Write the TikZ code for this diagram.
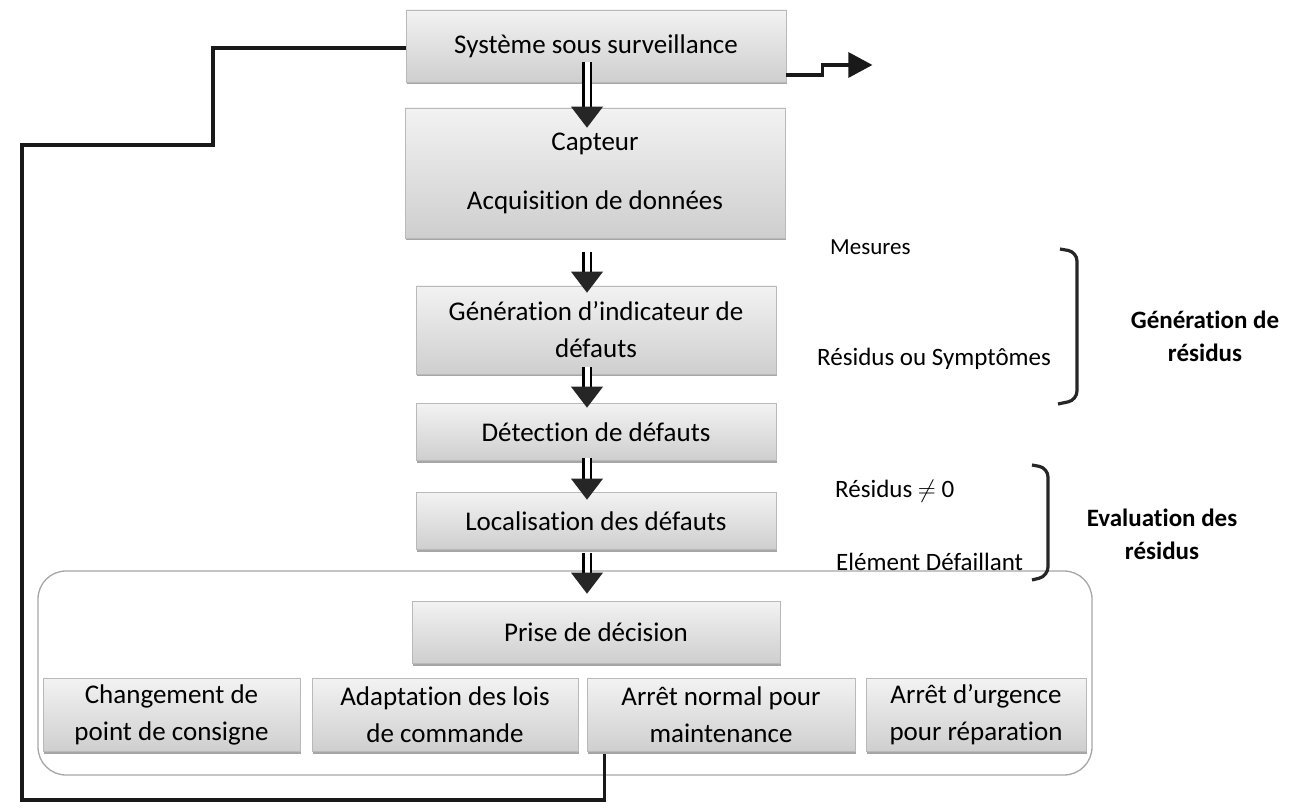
\documentclass[tikz,border=0pt]{standalone}
\usepackage{fontspec}
\setmainfont[Ligatures=NoCommon]{Carlito}
\usetikzlibrary{calc,shadows}
% hollow (double-outlined) down arrow: #1 shaft start, #2 tip
\newcommand\harrow[2]{%
  \draw[line width=2.6pt, double=white, double distance=5pt] (#1) -- ($(#2)+(0,-18)$);
  \fill[black!85] ($(#2)+(-16,-21)$) -- ($(#2)+(16,-21)$) -- (#2) -- cycle;}
\tikzset{
  box/.style={draw=gray!55, line width=0.6pt, top color=gray!10, bottom color=gray!38,
    drop shadow={shadow xshift=1pt, shadow yshift=-2.5pt, fill=gray!70, opacity=1},
    align=center, inner sep=2pt, font=\fontsize{27}{37}\selectfont},
  lbl/.style={font=\fontsize{25}{30}\selectfont, inner sep=0pt, anchor=west},
  blbl/.style={font=\fontsize{25}{33}\selectfont\bfseries, align=center, inner sep=0pt},
  fb/.style={line width=3.5pt, black!90, line join=miter},
  brk/.style={line width=3.2pt, black!85, rounded corners=9pt},
}
\begin{document}
\begin{tikzpicture}[x=1pt,y=-1pt]
\useasboundingbox (0,0) rectangle (1294,810);
% decision frame
\node[draw=gray!70, line width=1.3pt, rounded corners=28pt, minimum width=1054pt, minimum height=204pt] (frame) at (565,673) {};
% boxes
\node[box, minimum width=380pt, minimum height=72pt] (sys) at (596,46) {Système sous surveillance};
\node[box, minimum width=380pt, minimum height=130pt] (cap) at (595,173) {Capteur\\[22pt]Acquisition de données};
\node[box, minimum width=360pt, minimum height=88pt] (gen) at (596,330) {Génération d’indicateur de\\défauts};
\node[box, minimum width=360pt, minimum height=57pt] (det) at (596,432) {Détection de défauts};
\node[box, minimum width=360pt, minimum height=57pt] (loc) at (596,521) {Localisation des défauts};
\node[box, minimum width=368pt, minimum height=62pt] (pd) at (596,632) {Prise de décision};
\node[box, minimum width=257pt, minimum height=73pt] (b1) at (171.5,715) {Changement de\\point de consigne};
\node[box, minimum width=266pt, minimum height=73pt] (b2) at (445,715) {Adaptation des lois\\de commande};
\node[box, minimum width=268pt, minimum height=73pt] (b3) at (721,715) {Arrêt normal pour\\maintenance};
\node[box, minimum width=220pt, minimum height=73pt] (b4) at (976,715) {Arrêt d’urgence\\pour réparation};
% hollow arrows between consecutive boxes
\coordinate (a1s) at ($(sys.south)+(-9,-20)$);
\coordinate (a1e) at ($(cap.north)+(-8,20)$);
\coordinate (a2s) at ($(cap.south)+(-8,14)$);
\coordinate (a2e) at ($(gen.north)+(-9,7)$);
\coordinate (a3s) at ($(gen.south)+(-9,-7)$);
\coordinate (a3e) at ($(det.north)+(-9,4.5)$);
\coordinate (a4s) at ($(det.south)+(-9,-2.5)$);
\coordinate (a4e) at ($(loc.north)+(-9,7.5)$);
\coordinate (a5s) at ($(loc.south)+(-9,3.5)$);
\coordinate (a5e) at ($(pd.north)+(-9,-7)$);
\harrow{a1s}{a1e}
\harrow{a2s}{a2e}
\harrow{a3s}{a3e}
\harrow{a4s}{a4e}
\harrow{a5s}{a5e}
% feedback loop
\coordinate (f1) at ($(b3.south west)+(18,2)$);
\draw[fb] (f1) -- (f1 |- 0,800) -- (22,800) -- (22,145) -- (213,145) -- (213,48) -- (sys.west |- 0,48);
% output arrow
\coordinate (o1) at (sys.east |- 0,75);
\draw[line width=3.5pt, black!90] (o1) -- ++(36,0) -- ++(0,-10) -- ++(28,0);
\fill[black!90] ($(o1)+(62,-23)$) -- ($(o1)+(86,-10)$) -- ($(o1)+(62,3)$) -- cycle;
% labels
\node[lbl, font=\fontsize{23}{26}\selectfont] (mes) at (830,247) {Mesures};
\node[lbl] (rs) at (817,359) {Résidus ou Symptômes};
\node[lbl] (rn) at (835,491) {Résidus $\neq$ 0};
\node[lbl] (ed) at (836,562) {Elément Défaillant};
\node[blbl] (gr) at (1205,336) {Génération de\\résidus};
\node[blbl] (er) at (1162,534) {Evaluation des\\résidus};
% brackets
\draw[brk] (1060,249) -- (1077,252) -- (1077,400) -- (1058,404);
\draw[brk] (1032,465) -- (1048,468) -- (1048,576) -- (1032,580);
\end{tikzpicture}
\end{document}
